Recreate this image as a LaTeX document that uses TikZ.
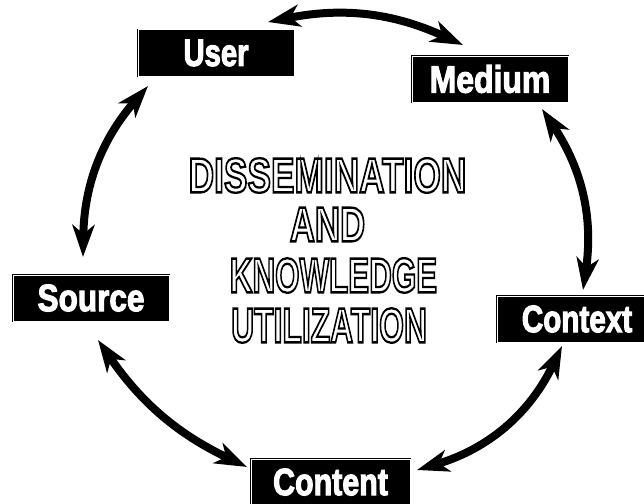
\documentclass[tikz,border=0pt]{standalone}
\usepackage{fontspec}
\setmainfont{Liberation Sans}
\usetikzlibrary{arrows.meta}
\newcommand\outlinedtext[1]{%
  \special{pdf:literal direct 1 Tr 2.3 w}#1\special{pdf:literal direct 0 Tr}}
\newcommand\heavytext[1]{%
  \special{pdf:literal direct 2 Tr 1.2 w}#1\special{pdf:literal direct 0 Tr}}
\tikzset{
  box/.style={draw=black, double=white, double distance=1pt, line width=0.8pt,
    fill=black, minimum width=156pt, minimum height=46pt, inner sep=0pt,
    text=white, font=\fontsize{38}{44}\selectfont\bfseries},
  centretext/.style={inner sep=0pt, text=black, font=\fontsize{49}{55}\selectfont\bfseries},
  arr/.style={line width=8pt, black,
    {Stealth[length=32pt,width=22pt,inset=9pt]}-{Stealth[length=32pt,width=22pt,inset=9pt]}}
}
\newcommand\lab[2]{\scalebox{#1}[1]{\heavytext{#2}}}
\begin{document}
\begin{tikzpicture}[x=1pt,y=-1pt]
\useasboundingbox (0,0) rectangle (644,503);
\fill[white] (0,0) rectangle (644,503);
\begin{scope}
\clip (0,0) rectangle (644,503);
\node[box] (user) at (216,53) {\lab{0.77}{User}};
\node[box] (medium) at (490,79) {\lab{0.84}{Medium}};
\node[box, minimum width=159pt] (context) at (577,319) {\lab{0.78}{Context}};
\node[box, minimum width=159pt] (content) at (330.5,482) {\lab{0.8}{Content}};
\node[box] (source) at (91,298) {\lab{0.83}{Source}};
\end{scope}

\node[centretext] (l1) at (327.5,175.5) {\scalebox{0.72}[1]{\outlinedtext{DISSEMINATION}}};
\node[centretext] (l2) at (327.5,224.5) {\scalebox{0.71}[1]{\outlinedtext{AND}}};
\node[centretext] (l3) at (333.5,275.5) {\scalebox{0.64}[1]{\outlinedtext{KNOWLEDGE}}};
\node[centretext] (l4) at (329,325.5) {\scalebox{0.65}[1]{\outlinedtext{UTILIZATION}}};

\coordinate (um1) at (268,22);
\coordinate (um2) at (463,45);
\coordinate (mc1) at (542,109);
\coordinate (mc2) at (583,290);
\coordinate (cc1) at (562,346);
\coordinate (cc2) at (417,470);
\coordinate (cs1) at (247,467);
\coordinate (cs2) at (98,340);
\coordinate (su1) at (83,257);
\coordinate (su2) at (148,86);

\draw[arr] (um1) to[bend left=18] (um2);
\draw[arr] (mc1) to[bend left=21] (mc2);
\draw[arr] (cc1) to[bend left=24] (cc2);
\draw[arr] (cs1) to[bend left=15] (cs2);
\draw[arr] (su1) to[bend left=20] (su2);
\end{tikzpicture}
\end{document}
